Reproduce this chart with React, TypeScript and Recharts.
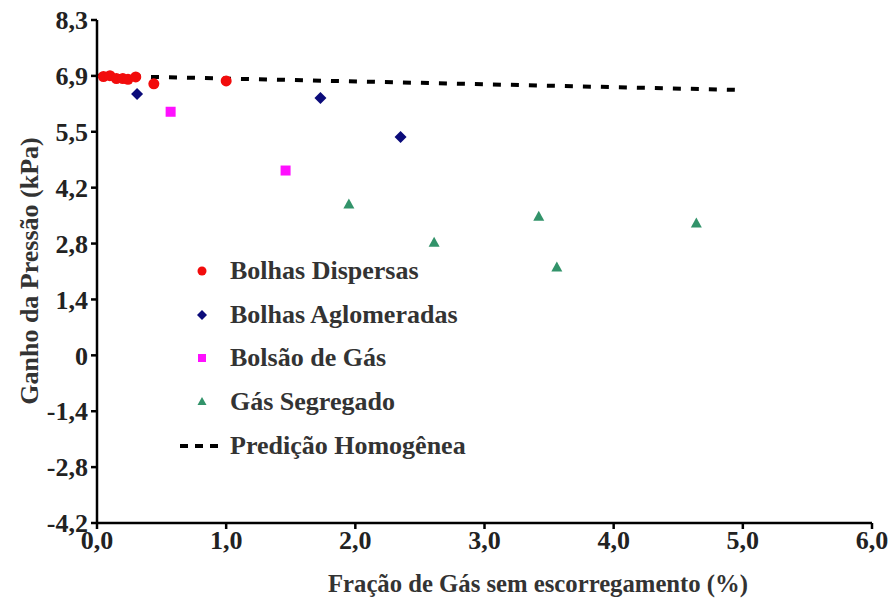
import { ComposedChart, Scatter, XAxis, YAxis, Label } from 'recharts';

const FONT = '"Liberation Serif", "Times New Roman", serif';

// x = fração de gás (%), y = ganho de pressão (kPa)
const bolhasDispersas = [
  { x: 0.05, y: 6.88 }, { x: 0.1, y: 6.9 }, { x: 0.15, y: 6.83 }, { x: 0.2, y: 6.83 },
  { x: 0.24, y: 6.81 }, { x: 0.3, y: 6.87 }, { x: 0.44, y: 6.7 }, { x: 1.0, y: 6.77 },
];
const bolhasAglomeradas = [{ x: 0.31, y: 6.45 }, { x: 1.73, y: 6.35 }, { x: 2.35, y: 5.39 }];
const bolsaoGas = [{ x: 0.57, y: 6.01 }, { x: 1.46, y: 4.56 }];
const gasSegregado = [
  { x: 1.95, y: 3.72 }, { x: 2.61, y: 2.78 }, { x: 3.42, y: 3.42 }, { x: 3.56, y: 2.17 }, { x: 4.64, y: 3.25 },
];
const predicao = [{ x: 0, y: 6.9 }, { x: 4.95, y: 6.55 }];

const xTicks = [0, 1, 2, 3, 4, 5, 6];
const yTicks = [-4.137, -2.758, -1.379, 0, 1.379, 2.758, 4.137, 5.516, 6.895, 8.274];
const yTickLabels = ['-4,2', '-2,8', '-1,4', '0', '1,4', '2,8', '4,2', '5,5', '6,9', '8,3'];

const RED = '#f20c0c';
const NAVY = '#0b0b7a';
const MAGENTA = '#ff10ff';
const GREEN = '#32936a';
const TEXT = '#222';

const tickStyle = { fontFamily: FONT, fontWeight: 700, fontSize: 26, fill: TEXT };

const Dot = ({ cx, cy }: any) => <circle cx={cx} cy={cy} r={5.5} fill={RED} />;
const Diamond = ({ cx, cy }: any) => (
  <polygon points={`${cx},${cy - 6} ${cx + 6},${cy} ${cx},${cy + 6} ${cx - 6},${cy}`} fill={NAVY} />
);
const Square = ({ cx, cy }: any) => <rect x={cx - 5} y={cy - 5} width={10} height={10} fill={MAGENTA} />;
const Triangle = ({ cx, cy }: any) => (
  <polygon points={`${cx},${cy - 6} ${cx + 5.5},${cy + 4} ${cx - 5.5},${cy + 4}`} fill={GREEN} />
);
const NoShape = () => null;

const legendItems = [
  { label: 'Bolhas Dispersas', marker: <circle cx={22} cy={11} r={4.5} fill={RED} /> },
  { label: 'Bolhas Aglomeradas', marker: <polygon points="22,6 27,11 22,16 17,11" fill={NAVY} /> },
  { label: 'Bolsão de Gás', marker: <rect x={18} y={7} width={8} height={8} fill={MAGENTA} /> },
  { label: 'Gás Segregado', marker: <polygon points="22,6 26.5,14 17.5,14" fill={GREEN} /> },
  {
    label: 'Predição Homogênea',
    marker: <line x1={0} y1={11} x2={44} y2={11} stroke="#000" strokeWidth={4} strokeDasharray="8 7" />,
  },
];

function ChartLegend() {
  return (
    <div style={{ position: 'absolute', left: 180, top: 249, fontFamily: FONT, fontWeight: 700, fontSize: 26, color: '#333' }}>
      {legendItems.map(it => (
        <div key={it.label} style={{ display: 'flex', alignItems: 'center', height: 43.75 }}>
          <svg width={50} height={22}>{it.marker}</svg>
          <span style={{ lineHeight: 1 }}>{it.label}</span>
        </div>
      ))}
    </div>
  );
}

export default function App() {
  return (
    <div style={{ position: 'absolute', left: 0, top: 0, width: 891, height: 599, background: '#fff' }}>
      <ComposedChart width={891} height={599} margin={{ top: 20, right: 19, left: 0, bottom: 0 }}>
        <XAxis
          type="number" dataKey="x" domain={[0, 6]} ticks={xTicks} height={76}
          tickFormatter={(v: number) => v.toFixed(1).replace('.', ',')}
          tick={tickStyle} tickSize={6} tickMargin={2}
          axisLine={{ stroke: '#000', strokeWidth: 2.5 }} tickLine={{ stroke: '#000', strokeWidth: 2.5 }}
        >
          <Label
            content={() => (
              <text x={538} y={592} textAnchor="middle" fontFamily={FONT} fontWeight={700} fontSize={25} fill="#333"
                textLength={420} lengthAdjust="spacingAndGlyphs">
                Fração de Gás sem escorregamento (%)
              </text>
            )}
          />
        </XAxis>
        <YAxis
          type="number" dataKey="y" domain={[yTicks[0], yTicks[yTicks.length - 1]]} ticks={yTicks} width={97}
          tickFormatter={(v: number) => yTickLabels[yTicks.indexOf(v)] ?? ''}
          tick={tickStyle} tickSize={6} tickMargin={3}
          axisLine={{ stroke: '#000', strokeWidth: 2.5 }} tickLine={{ stroke: '#000', strokeWidth: 2.5 }}
        >
          <Label
            content={() => (
              <text x={38} y={271} transform="rotate(-90 38 271)" textAnchor="middle" fontFamily={FONT}
                fontWeight={700} fontSize={26} fill="#333">
                Ganho da Pressão (kPa)
              </text>
            )}
          />
        </YAxis>
        <Scatter name="Predição Homogênea" data={predicao} shape={NoShape} isAnimationActive={false}
          line={{ stroke: '#000', strokeWidth: 4, strokeDasharray: '8 10' }} />
        <Scatter name="Bolhas Dispersas" data={bolhasDispersas} shape={Dot} isAnimationActive={false} />
        <Scatter name="Bolhas Aglomeradas" data={bolhasAglomeradas} shape={Diamond} isAnimationActive={false} />
        <Scatter name="Bolsão de Gás" data={bolsaoGas} shape={Square} isAnimationActive={false} />
        <Scatter name="Gás Segregado" data={gasSegregado} shape={Triangle} isAnimationActive={false} />
      </ComposedChart>
      <ChartLegend />
    </div>
  );
}
